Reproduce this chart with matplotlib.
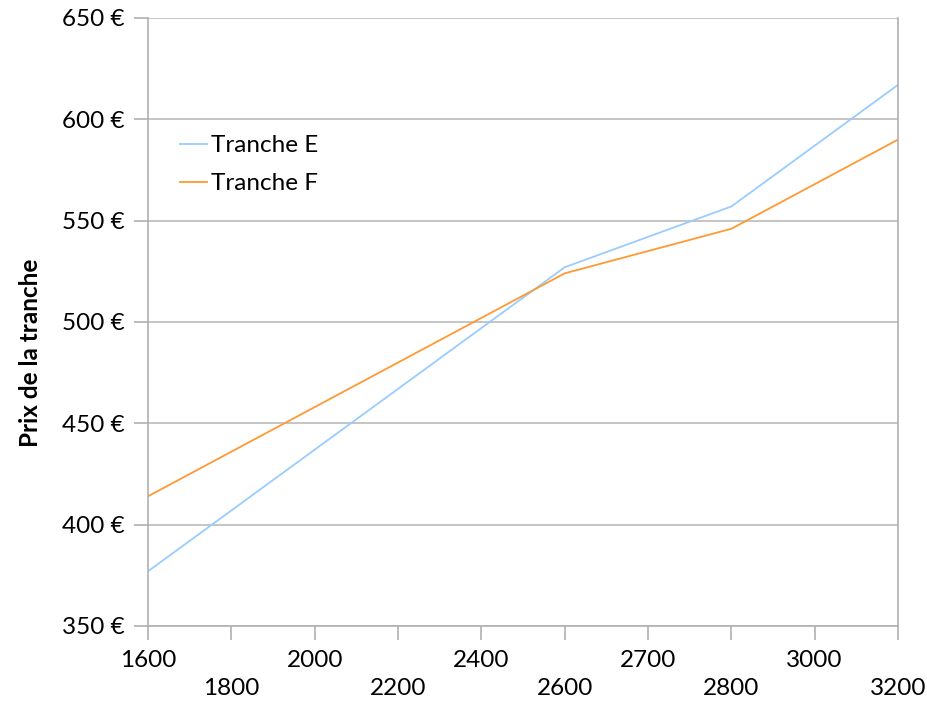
import matplotlib
matplotlib.use("Agg")
import matplotlib.pyplot as plt

categories = ["1600", "1800", "2000", "2200", "2400", "2600", "2700", "2800", "3000", "3200"]
tranche_e = [377, 407, 437, 467, 497, 527, 542, 557, 587, 617]
tranche_f = [414, 436, 458, 480, 502, 524, 535, 546, 568, 590]
y_ticks = [350, 400, 450, 500, 550, 600, 650]

plt.rcParams['font.family'] = ['Lato', 'DejaVu Sans']

fig = plt.figure(figsize=(9.27, 7.04), dpi=100)
ax = fig.add_axes([148/927, 78/704, 750/927, 608/704])

x = list(range(len(categories)))
ax.plot(x, tranche_e, color="#99ccff", lw=1.3, label="Tranche E")
ax.plot(x, tranche_f, color="#ff9933", lw=1.3, label="Tranche F")

ax.set_xlim(0, len(categories) - 1)
ax.set_ylim(350, 650)
ax.set_yticks(y_ticks)
ax.set_yticklabels([f"{v} €" for v in y_ticks], fontsize=17.5)
ax.yaxis.grid(True, color="#bbbbbb", lw=1.2)
ax.set_axisbelow(True)

ax.set_xticks(x)
labels = [c if i % 2 == 0 else "\n" + c for i, c in enumerate(categories)]
ax.set_xticklabels(labels, fontsize=17.5, linespacing=1.42)

for s in ["left", "bottom", "right"]:
    ax.spines[s].set_color("#b0b0b0")
    ax.spines[s].set_linewidth(1.2)
ax.spines["top"].set_visible(False)

ax.tick_params(axis="both", direction="out", length=10, color="#b0b0b0", width=1.2)
ax.tick_params(axis="y", pad=7)
ax.tick_params(axis="x", pad=7)

ax.set_ylabel("Prix de la tranche", fontsize=17.5, fontweight="bold")
ax.yaxis.set_label_coords(-0.141, 0.45)

leg = ax.legend(loc="upper left", bbox_to_anchor=(0.043, 0.807), frameon=False,
                fontsize=17.5, handlelength=1.1, handletextpad=0.18, labelspacing=0.7,
                borderaxespad=0, borderpad=0)

fig.savefig("out.png", dpi=100)
